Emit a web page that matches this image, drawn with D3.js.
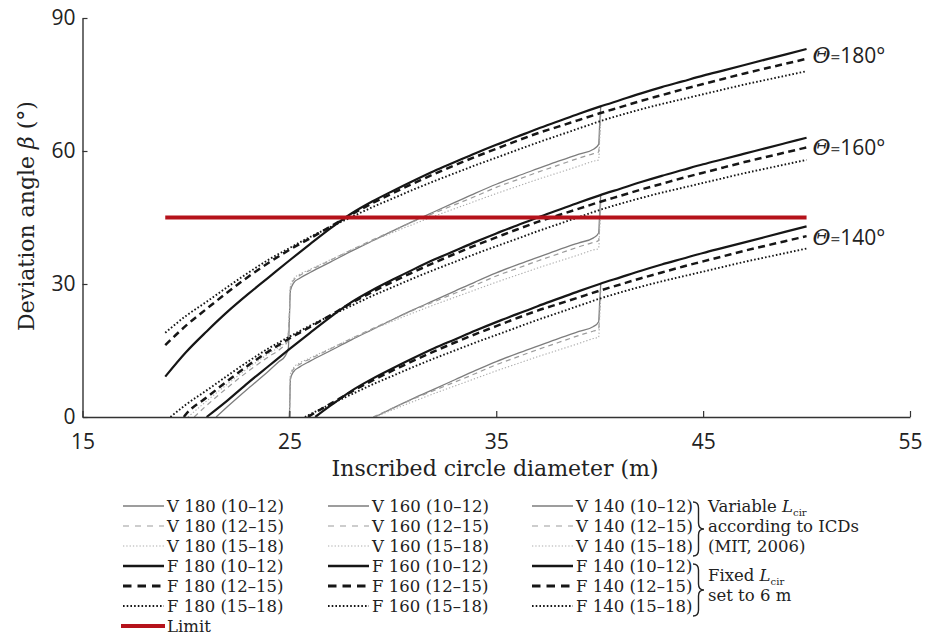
<!DOCTYPE html>
<html><head><meta charset="utf-8">
<script src="https://cdn.jsdelivr.net/npm/d3@7"></script>
<style>body{margin:0;background:#fff} svg{display:block}</style>
</head><body><svg id="c" width="925" height="637"></svg>
<script>
// ---------- data ----------
const X_TICKS = [15, 25, 35, 45, 55];
const Y_TICKS = [0, 30, 60, 90];
const LIMIT = [[19, 45], [50, 45]];
const THETA_LABELS = ["180", "160", "140"];
const THETA_LABEL_Y = [81.5, 60.8, 40.4];

// Fixed Lcir (F) curves
const F180_1012 = [[19,9.1],[20,14.6],[21,19.3],[22,23.7],[23,27.7],[24,31.5],[25,35.3],[26,39.0],[27,42.6],[28,45.9],[29,48.6],[30,51.0],[31,53.3],[32,55.5],[33,57.5],[34,59.5],[35,61.4],[36,63.2],[37,65.0],[38,66.7],[39,68.4],[40,70.0],[41,71.5],[42,73.0],[43,74.4],[44,75.7],[45,77.0],[46,78.2],[47,79.4],[48,80.6],[49,81.8],[50,83.0]];
const F180_1215 = [[19,16.2],[20,20.6],[21,24.4],[22,28.1],[23,31.6],[24,34.8],[25,37.7],[26,40.3],[27,43.0],[28,45.7],[29,48.2],[30,50.5],[31,52.7],[32,54.8],[33,56.8],[34,58.7],[35,60.5],[36,62.3],[37,64.0],[38,65.5],[39,67.0],[40,68.5],[41,69.9],[42,71.3],[43,72.6],[44,73.9],[45,75.1],[46,76.3],[47,77.5],[48,78.6],[49,79.7],[50,80.8]];
const F180_1518 = [[19,19.0],[20,22.8],[21,26.0],[22,29.3],[23,32.5],[24,35.5],[25,38.1],[26,40.6],[27,42.9],[28,45.1],[29,47.3],[30,49.3],[31,51.3],[32,53.2],[33,55.0],[34,56.8],[35,58.5],[36,60.2],[37,61.9],[38,63.5],[39,65.1],[40,66.7],[41,68.1],[42,69.4],[43,70.6],[44,71.7],[45,72.8],[46,73.9],[47,75.0],[48,76.0],[49,77.0],[50,78.0]];
const F160_1012 = [[21.0,0],[22,3.7],[23,7.7],[24,11.5],[25,15.3],[26,19.0],[27,22.6],[28,25.9],[29,28.6],[30,31.0],[31,33.3],[32,35.5],[33,37.5],[34,39.5],[35,41.4],[36,43.2],[37,45.0],[38,46.7],[39,48.4],[40,50.0],[41,51.5],[42,53.0],[43,54.4],[44,55.7],[45,57.0],[46,58.2],[47,59.4],[48,60.6],[49,61.8],[50,63.0]];
const F160_1215 = [[19.9,0],[20,0.6],[21,4.4],[22,8.1],[23,11.6],[24,14.8],[25,17.7],[26,20.3],[27,23.0],[28,25.7],[29,28.2],[30,30.5],[31,32.7],[32,34.8],[33,36.8],[34,38.7],[35,40.5],[36,42.3],[37,44.0],[38,45.5],[39,47.0],[40,48.5],[41,49.9],[42,51.3],[43,52.6],[44,53.9],[45,55.1],[46,56.3],[47,57.5],[48,58.6],[49,59.7],[50,60.8]];
const F160_1518 = [[19.25,0],[20,2.8],[21,6.0],[22,9.3],[23,12.5],[24,15.5],[25,18.1],[26,20.6],[27,22.9],[28,25.1],[29,27.3],[30,29.3],[31,31.3],[32,33.2],[33,35.0],[34,36.8],[35,38.5],[36,40.2],[37,41.9],[38,43.5],[39,45.1],[40,46.7],[41,48.1],[42,49.4],[43,50.6],[44,51.7],[45,52.8],[46,53.9],[47,55.0],[48,56.0],[49,57.0],[50,58.0]];
const F140_1012 = [[26.25,0],[27,2.6],[28,5.9],[29,8.6],[30,11.0],[31,13.3],[32,15.5],[33,17.5],[34,19.5],[35,21.4],[36,23.2],[37,25.0],[38,26.7],[39,28.4],[40,30.0],[41,31.5],[42,33.0],[43,34.4],[44,35.7],[45,37.0],[46,38.2],[47,39.4],[48,40.6],[49,41.8],[50,43.0]];
const F140_1215 = [[25.9,0],[26,0.3],[27,3.0],[28,5.7],[29,8.2],[30,10.5],[31,12.7],[32,14.8],[33,16.8],[34,18.7],[35,20.5],[36,22.3],[37,24.0],[38,25.5],[39,27.0],[40,28.5],[41,29.9],[42,31.3],[43,32.6],[44,33.9],[45,35.1],[46,36.3],[47,37.5],[48,38.6],[49,39.7],[50,40.8]];
const F140_1518 = [[25.75,0],[26,0.6],[27,2.9],[28,5.1],[29,7.3],[30,9.3],[31,11.3],[32,13.2],[33,15.0],[34,16.8],[35,18.5],[36,20.2],[37,21.9],[38,23.5],[39,25.1],[40,26.7],[41,28.1],[42,29.4],[43,30.6],[44,31.7],[45,32.8],[46,33.9],[47,35.0],[48,36.0],[49,37.0],[50,38.0]];

// Variable Lcir (V) curves (beyond 40 m they coincide with the F curves)
const V180_1012 = [[21.46,0],[22,2.3],[23,6.4],[24,10.4],[24.5,12.5],[24.8,13.8],[24.95,15.5],[25.0,22],[25.05,28.5],[25.2,30.2],[25.5,31.3],[26,32.6],[27,35.0],[28,37.4],[29,39.7],[30,42.0],[31,44.2],[32,46.3],[33,48.4],[34,50.5],[35,52.5],[36,54.3],[37,56.0],[38,57.7],[39,59.3],[39.7,60.4],[39.95,61.5],[40.0,66],[40.05,70.0]];
const V180_1215 = [[20.4,0],[21,2.6],[22,6.6],[23,10.3],[24,13.6],[24.6,15.5],[24.9,17.0],[25.0,23.0],[25.05,29.0],[25.2,30.8],[25.5,31.9],[26,33.1],[27,35.4],[28,37.7],[29,39.9],[30,42.0],[31,44.1],[32,46.0],[33,47.9],[34,49.8],[35,51.8],[36,53.5],[37,55.2],[38,56.8],[39,58.4],[39.7,59.4],[39.95,59.8],[40,64],[40.05,68.5]];
const V180_1518 = [[20.1,0],[21,3.6],[22,7.4],[23,11.0],[24,14.3],[24.6,16.1],[24.9,17.3],[25.0,23.5],[25.05,29.5],[25.2,31.1],[25.5,32.2],[26,33.3],[27,35.5],[28,37.7],[29,39.7],[30,41.6],[31,43.5],[32,45.3],[33,47.0],[34,48.7],[35,50.4],[36,52.0],[37,53.6],[38,55.1],[39,56.6],[39.7,57.7],[39.95,58.0],[40,62.5],[40.05,66.7]];
const V160_1012 = [[25.0,0],[25.02,3],[25.05,8.5],[25.2,10.2],[25.5,11.3],[26,12.6],[27,15.0],[28,17.4],[29,19.7],[30,22.0],[31,24.2],[32,26.3],[33,28.4],[34,30.5],[35,32.5],[36,34.3],[37,36.0],[38,37.7],[39,39.3],[39.7,40.4],[39.95,41.5],[40.0,46],[40.05,50.0]];
const V160_1215 = [[25.0,0],[25.02,3.5],[25.05,9.0],[25.2,10.8],[25.5,11.9],[26,13.1],[27,15.4],[28,17.7],[29,19.9],[30,22.0],[31,24.1],[32,26.0],[33,27.9],[34,29.8],[35,31.8],[36,33.5],[37,35.2],[38,36.8],[39,38.4],[39.7,39.4],[39.95,39.8],[40,44],[40.05,48.5]];
const V160_1518 = [[25.0,0],[25.02,3.5],[25.05,9.5],[25.2,11.1],[25.5,12.2],[26,13.3],[27,15.5],[28,17.7],[29,19.7],[30,21.6],[31,23.5],[32,25.3],[33,27.0],[34,28.7],[35,30.4],[36,32.0],[37,33.6],[38,35.1],[39,36.6],[39.7,37.7],[39.95,38.0],[40,42.5],[40.05,46.7]];
const V140_1012 = [[29.13,0],[30,2.0],[31,4.2],[32,6.3],[33,8.4],[34,10.5],[35,12.5],[36,14.3],[37,16.0],[38,17.7],[39,19.3],[39.7,20.4],[39.95,21.5],[40,26],[40.05,30.0]];
const V140_1215 = [[29.05,0],[30,2.0],[31,4.1],[32,6.0],[33,7.9],[34,9.8],[35,11.8],[36,13.5],[37,15.2],[38,16.8],[39,18.4],[39.7,19.4],[39.95,19.8],[40,24],[40.05,28.5]];
const V140_1518 = [[29.15,0],[30,1.6],[31,3.5],[32,5.3],[33,7.0],[34,8.7],[35,10.4],[36,12.0],[37,13.6],[38,15.1],[39,16.6],[39.7,17.7],[39.95,18.0],[40,22.5],[40.05,26.7]];

const RANGES = ["10–12", "12–15", "15–18"];
const NOTE_VAR = ["according to ICDs", "(MIT, 2006)"];
const NOTE_FIX = ["set to 6 m"];

// ---------- build ----------
const dataMap = {
  "V180": [V180_1012, V180_1215, V180_1518], "V160": [V160_1012, V160_1215, V160_1518], "V140": [V140_1012, V140_1215, V140_1518],
  "F180": [F180_1012, F180_1215, F180_1518], "F160": [F160_1012, F160_1215, F160_1518], "F140": [F140_1012, F140_1215, F140_1518]
};
const STYLE = {
  V: [{c:"#7d7d7d", w:1.3, d:null}, {c:"#9c9c9c", w:1.2, d:"5,4"}, {c:"#ababab", w:1.1, d:"1.3,2"}],
  F: [{c:"#161616", w:2.2, d:null}, {c:"#161616", w:2.5, d:"7,4.5"}, {c:"#161616", w:1.9, d:"1.6,2.1"}]
};
const series = [];
["V","F"].forEach(t => THETA_LABELS.forEach((th, ci) => RANGES.forEach((r, ri) => {
  series.push({type:t, theta:th, col:ci, row:(t==="V"?0:3)+ri, idx:ri, name:`${t} ${th} (${r})`, data:dataMap[t+th][ri], style:STYLE[t][ri]});
})));

const svg = d3.select("#c");
const x = d3.scaleLinear().domain([15, 55]).range([82.5, 910]);
const y = d3.scaleLinear().domain([0, 90]).range([417, 18]);
const SERIF = "'DejaVu Serif', serif";
const SANS = "'Open Sans', sans-serif";

const line = d3.line().x(d => x(d[0])).y(d => y(d[1])).curve(d3.curveMonotoneX);
const plot = svg.append("g");
series.forEach(s => {
  plot.append("path").attr("d", line(s.data)).attr("fill","none")
    .attr("stroke", s.style.c).attr("stroke-width", s.style.w)
    .attr("stroke-dasharray", s.style.d).attr("stroke-linejoin","round");
});
plot.append("path").attr("d", d3.line().x(d=>x(d[0])).y(d=>y(d[1]))(LIMIT))
  .attr("stroke","#b5121b").attr("stroke-width",4.2).attr("fill","none");

// axes
const gx = svg.append("g").attr("transform","translate(0,417)")
  .call(d3.axisBottom(x).tickValues(X_TICKS).tickSizeInner(-6).tickSizeOuter(0).tickPadding(17));
const gy = svg.append("g").attr("transform","translate(82.5,0)")
  .call(d3.axisLeft(y).tickValues(Y_TICKS).tickSizeInner(-5).tickSizeOuter(0).tickPadding(7));
[gx, gy].forEach(g => {
  g.select(".domain").attr("stroke","#333").attr("stroke-width",1.4);
  g.selectAll(".tick line").attr("stroke","#333").attr("stroke-width",1.2);
  g.selectAll(".tick text").attr("font-family",SANS).attr("font-size",21).attr("fill","#222");
});

// axis labels
svg.append("text").attr("x",495).attr("y",476).attr("text-anchor","middle")
  .attr("font-family",SERIF).attr("font-size",22).attr("fill","#222").text("Inscribed circle diameter (m)");
const yl = svg.append("text").attr("transform","translate(34,216) rotate(-90)").attr("text-anchor","middle")
  .attr("font-family",SERIF).attr("font-size",22).attr("fill","#222");
yl.append("tspan").text("Deviation angle ");
yl.append("tspan").attr("font-style","italic").text("β");
yl.append("tspan").text(" (°)");

// theta labels
THETA_LABELS.forEach((th, i) => {
  const t = svg.append("text").attr("x", x(50) + 6).attr("y", y(THETA_LABEL_Y[i])).attr("dy","0.35em")
    .attr("font-size",21).attr("fill","#222");
  t.append("tspan").attr("font-family",SERIF).attr("font-style","italic").attr("font-size",22).text("Θ");
  t.append("tspan").attr("font-family",SANS).attr("font-size",17).attr("fill","#444").text("=");
  t.append("tspan").attr("font-family",SANS).text(th + "°");
});

// legend
const colX = [123, 328, 532];
const rowY = r => 506 + r * 20;
const FS = 16.5;
const leg = svg.append("g");
series.forEach(s => {
  const x0 = colX[s.col], yy = rowY(s.row);
  leg.append("line").attr("x1",x0).attr("x2",x0+41).attr("y1",yy).attr("y2",yy)
    .attr("stroke", s.style.c).attr("stroke-width", s.style.w + (s.type==="F"?0.3:0))
    .attr("stroke-dasharray", s.style.d ? (s.idx===1 ? (s.type==="F"?"8.5,6":"6,6") : s.style.d) : null);
  leg.append("text").attr("x", x0+44).attr("y", yy).attr("dy","0.34em")
    .attr("font-family",SERIF).attr("font-size",FS).attr("fill","#222").text(s.name);
});
leg.append("line").attr("x1",121).attr("x2",165).attr("y1",rowY(6)).attr("y2",rowY(6))
  .attr("stroke","#b5121b").attr("stroke-width",4.2);
leg.append("text").attr("x",167).attr("y",rowY(6)).attr("dy","0.34em")
  .attr("font-family",SERIF).attr("font-size",FS).attr("fill","#222").text("Limit");

// braces
function brace(x0, y0, y1, w) {
  const ym = (y0 + y1) / 2, xm = x0 + w / 2, k = 6;
  return `M${x0},${y0} Q${xm},${y0} ${xm},${y0+k} L${xm},${ym-k} Q${xm},${ym} ${x0+w},${ym} Q${xm},${ym} ${xm},${ym+k} L${xm},${y1-k} Q${xm},${y1} ${x0},${y1}`;
}
leg.append("path").attr("d", brace(693, 502, 556, 11)).attr("fill","none").attr("stroke","#222").attr("stroke-width",1.4);
leg.append("path").attr("d", brace(693, 564, 616, 11)).attr("fill","none").attr("stroke","#222").attr("stroke-width",1.4);

function note(yy, main) {
  const t = leg.append("text").attr("x",708).attr("y",yy).attr("dy","0.34em")
    .attr("font-family",SERIF).attr("font-size",FS).attr("fill","#222");
  t.append("tspan").text(main + " ");
  t.append("tspan").attr("font-style","italic").text("L");
  t.append("tspan").attr("font-size",10).attr("dy",4).text("cir");
}
note(rowY(0), "Variable");
NOTE_VAR.forEach((s, i) => leg.append("text").attr("x",708).attr("y",rowY(i+1)).attr("dy","0.34em")
  .attr("font-family",SERIF).attr("font-size",FS).attr("fill","#222").text(s));
note(575, "Fixed");
NOTE_FIX.forEach((s, i) => leg.append("text").attr("x",708).attr("y",595 + i*20).attr("dy","0.34em")
  .attr("font-family",SERIF).attr("font-size",FS).attr("fill","#222").text(s));
</script></body></html>
